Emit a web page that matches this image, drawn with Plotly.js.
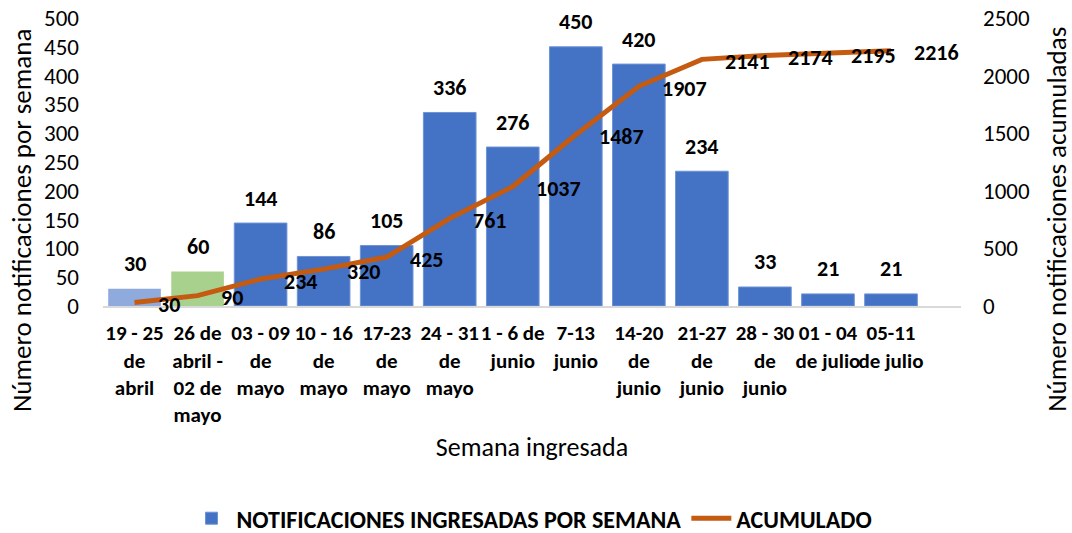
<!DOCTYPE html>
<html>
<head>
<meta charset="utf-8">
<script src="https://cdn.plot.ly/plotly-3.0.1.min.js"></script>
<style>html,body{margin:0;padding:0;background:#fff;}#chart{width:1072px;height:533px;}</style>
</head>
<body>
<div id="chart"></div>
<script>
var categories = [
  "19 - 25<br>de<br>abril",
  "26 de<br>abril -<br>02 de<br>mayo",
  "03 - 09<br>de<br>mayo",
  "10 - 16<br>de<br>mayo",
  "17-23<br>de<br>mayo",
  "24 - 31<br>de<br>mayo",
  "1 - 6 de<br>junio",
  "7-13<br>junio",
  "14-20<br>de<br>junio",
  "21-27<br>de<br>junio",
  "28 - 30<br>de<br>junio",
  "01 - 04<br>de julio",
  "05-11<br>de julio"
];
var weekly = [30, 60, 144, 86, 105, 336, 276, 450, 420, 234, 33, 21, 21];
var cumulative = [30, 90, 234, 320, 425, 761, 1037, 1487, 1907, 2141, 2174, 2195, 2216];
var firstWeeksColors = ["#8FAADC", "#A9D18E"];
var mainColor = "#4472C4";
var leftTicks = [0, 50, 100, 150, 200, 250, 300, 350, 400, 450, 500];
var rightTicks = [0, 500, 1000, 1500, 2000, 2500];

var FONT = "Carlito, Calibri, Lato, sans-serif";
var nFirst = firstWeeksColors.length;

var firstBars = {
  type: "bar",
  name: "NOTIFICACIONES INGRESADAS POR SEMANA",
  x: categories.slice(0, nFirst),
  y: weekly.slice(0, nFirst),
  marker: {color: firstWeeksColors},
  showlegend: false
};
var mainBars = {
  type: "bar",
  name: "NOTIFICACIONES INGRESADAS POR SEMANA",
  x: categories.slice(nFirst),
  y: weekly.slice(nFirst),
  marker: {color: mainColor, line: {color: "#6E94D6", width: 1}}
};
var lineTrace = {
  type: "scatter",
  mode: "lines",
  name: "ACUMULADO",
  x: categories,
  y: cumulative,
  yaxis: "y2",
  line: {color: "#C55A11", width: 5}
};

var annotations = [];
weekly.forEach(function (v, i) {
  annotations.push({
    x: categories[i], y: v, xref: "x", yref: "y",
    text: "<b>" + v + "</b>", showarrow: false,
    yshift: 25, font: {family: FONT, size: 22, color: "#000"}
  });
});
cumulative.forEach(function (v, i) {
  annotations.push({
    x: categories[i], y: v, xref: "x", yref: "y2",
    text: "<b>" + v + "</b>", showarrow: false,
    xanchor: "left", xshift: 21, yshift: -2,
    font: {family: FONT, size: 22, color: "#000"}
  });
});
annotations.push({
  xref: "paper", yref: "paper", x: -0.095, y: 0.30,
  text: "Número notificaciones por semana", textangle: -90,
  showarrow: false, xanchor: "center", yanchor: "middle",
  font: {family: FONT, size: 27, color: "#000"}
});
annotations.push({
  xref: "paper", yref: "paper", x: 1.111, y: 0.30,
  text: "Número notificaciones acumuladas", textangle: -90,
  showarrow: false, xanchor: "center", yanchor: "middle",
  font: {family: FONT, size: 27, color: "#000"}
});

var layout = {
  width: 1072, height: 533,
  margin: {l: 103, r: 111, t: 18, b: 227},
  paper_bgcolor: "#fff", plot_bgcolor: "#fff",
  font: {family: FONT, color: "#000"},
  bargap: 0.165,
  barmode: "overlay",
  showlegend: true,
  legend: {
    orientation: "h", xref: "paper", x: 0.5, xanchor: "center",
    yref: "container", y: 0.027, yanchor: "middle",
    font: {family: FONT, size: 24, color: "#000", weight: "bold"},
    itemwidth: 40, tracegroupgap: 0
  },
  xaxis: {
    type: "category", automargin: false,
    tickfont: {family: FONT, size: 21, color: "#000", weight: "bold"},
    tickangle: 0,
    showline: true, linecolor: "#D9D9D9", linewidth: 2,
    ticks: "", showgrid: false, ticklabelstandoff: 7,
    title: {text: "Semana ingresada", font: {family: FONT, size: 26, color: "#000"}, standoff: 11}
  },
  yaxis: {
    range: [0, 500], tickvals: leftTicks, automargin: false,
    tickfont: {family: FONT, size: 23, color: "#000"},
    showgrid: false, zeroline: false, showline: false, ticks: "",
    ticklabelstandoff: 23
  },
  yaxis2: {
    range: [0, 2500], tickvals: rightTicks, overlaying: "y", side: "right", automargin: false,
    tickfont: {family: FONT, size: 23, color: "#000"},
    showgrid: false, zeroline: false, showline: false, ticks: "",
    ticklabelstandoff: 21
  },
  annotations: annotations
};

Plotly.newPlot("chart", [firstBars, mainBars, lineTrace], layout, {displayModeBar: false, staticPlot: true});
</script>
</body>
</html>
